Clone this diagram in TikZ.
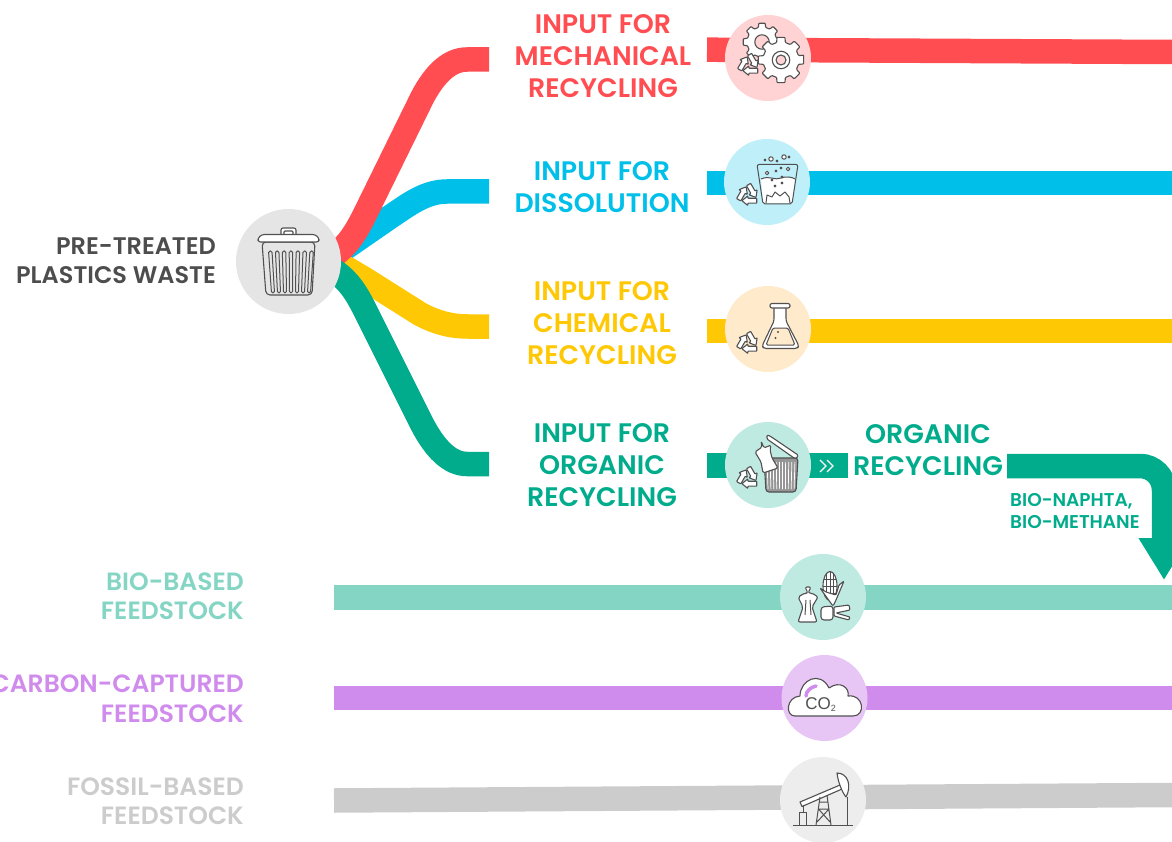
\documentclass[tikz,border=0pt]{standalone}
\usepackage{fontspec}
\newfontfamily\popfont{Poppins SemiBold}
\usepackage{xcolor}
\definecolor{mechColor}{HTML}{FF4D52}
\definecolor{dissColor}{HTML}{00BFE8}
\definecolor{chemColor}{HTML}{FFC805}
\definecolor{chemLight}{HTML}{FFEACB}
\definecolor{orgColor}{HTML}{00AC8B}
\definecolor{bioColor}{HTML}{85D5C5}
\definecolor{carbColor}{HTML}{D08CEC}
\definecolor{fossColor}{HTML}{CCCCCC}
\definecolor{hubColor}{HTML}{E5E5E5}
\definecolor{iconColor}{HTML}{505050}
\definecolor{hubText}{HTML}{4D4D4D}
\usetikzlibrary{arrows.meta,positioning,calc}
\tikzset{
    band/.style={
        line width=24.5pt
    },
    disc/.style={
        circle,
        inner sep=0pt,
        minimum size=86pt
    },
    biglabel/.style={
        font=\popfont\fontsize{26.8}{32}\selectfont,
        align=center,
        inner sep=0pt
    },
    hublabel/.style={
        font=\popfont\fontsize{24}{29}\selectfont,
        align=right,
        inner sep=0pt,
        anchor=east
    },
    feedlabel/.style={
        font=\popfont\fontsize{25}{29.5}\selectfont,
        align=right,
        inner sep=0pt,
        anchor=east
    },
    smalllabel/.style={
        font=\popfont\fontsize{18.5}{22}\selectfont,
        align=left,
        inner sep=0pt,
        anchor=west
    },
    iconline/.style={
        draw=iconColor,
        fill=white,
        line width=1.1pt,
        line join=round
    },
    iconthin/.style={
        draw=iconColor,
        line width=1pt,
        line join=round
    },
    pics/recycle/.style={
        code={
            \foreach \a in {0,120,240} {
                \draw[iconline,rotate=\a,scale=1.1,rounded corners=0.6pt]
                    (-1.4,-8.4) -- (2.4,-10.6) -- (6.4,-3.6) -- (8.3,-4.7) -- (7.25,2.26) -- (0.7,-0.3) -- (2.6,-1.4) -- cycle;
            }
        }
    },
    pics/gear/.style args={#1/#2/#3}{
        code={
            \draw[iconline,rounded corners=0.8pt]
                (-12:#1) foreach \a in {0,45,...,315} {
                    -- ({\a-10}:#1) -- ({\a+10}:#1) -- ({\a+14}:#2) -- ({\a+31}:#2)
                } -- ({-14}:#2) -- cycle;
            \draw[iconline,fill=#3] (0,0) circle[radius=0.38*#1];
        }
    }
}
\begin{document}
\begin{tikzpicture}[x=1pt,y=-1pt]
    \path[use as bounding box,clip] (0,0) rectangle (1172,842);

    % Anchors of the bands
    \coordinate (mechStart) at (330,258);
    \coordinate (dissStart) at (335,255);
    \coordinate (chemStart) at (336,265);
    \coordinate (orgStart) at (330,268);
    \coordinate (mechEnd) at (489,59.5);
    \coordinate (dissEnd) at (489,191.5);
    \coordinate (chemEnd) at (489,326.5);
    \coordinate (orgEnd) at (489,464);

    % Bands from the bin
    \draw[band,dissColor] (dissStart) -- (390,217) .. controls (408,205) and (425,191.5) .. (447,191.5) -- (dissEnd);
    \draw[band,chemColor] (chemStart) .. controls (345,266) and (352,272) .. (363,278) -- (420,314) .. controls (437,323) and (452,326.5) .. (468,326.5) -- (chemEnd);
    \draw[band,mechColor] (mechStart) .. controls (350,245) and (358,228) .. (367,210) -- (422,98) .. controls (435,73) and (450,59.5) .. (467,59.5) -- (mechEnd);
    \draw[band,orgColor] (orgStart) .. controls (350,280) and (358,296) .. (367,314) -- (422,424) .. controls (435,449) and (450,464) .. (467,464) -- (orgEnd);

    % Bands behind the icons
    \coordinate (mechIn) at (707,49.7);
    \coordinate (mechOut) at (1172,52);
    \coordinate (dissIn) at (707,183);
    \coordinate (dissOut) at (1172,183);
    \coordinate (chemIn) at (707,331);
    \coordinate (chemOut) at (1172,331);
    \coordinate (orgIn) at (707,465.5);
    \coordinate (orgMid) at (848,465.5);
    \coordinate (orgOut) at (1007,466);
    \coordinate (orgTip) at (1164,580);
    \coordinate (bioIn) at (334,597.5);
    \coordinate (bioOut) at (1172,597.5);
    \coordinate (carbIn) at (334,698);
    \coordinate (carbOut) at (1172,698);
    \coordinate (fossIn) at (334,800.5);
    \coordinate (fossOut) at (1172,795);
    \draw[band,mechColor] (mechIn) -- (mechOut);
    \draw[band,dissColor] (dissIn) -- (dissOut);
    \draw[band,chemColor] (chemIn) -- (chemOut);
    \draw[band,orgColor] (orgIn) -- (orgMid);
    \draw[band,bioColor] (bioIn) -- (bioOut);
    \draw[band,carbColor] (carbIn) -- (carbOut);
    \draw[band,fossColor] (fossIn) -- (fossOut);
    \draw[band,orgColor,-{Triangle[width=48pt,length=42pt]}] (orgOut) -- (1140,466) .. controls (1153.2,466) and (1164,476.8) .. (1164,490) -- (orgTip);
    \draw[white,line width=1.2pt] (820,460) -- (826,466) -- (820,472) (827,460) -- (833,466) -- (827,472);

    % Discs
    \node[disc,minimum size=105pt,fill=hubColor] (hub) at (288.5,261.5) {};
    \node[disc,fill=mechColor!25] (mechIcon) at (768,58) {};
    \node[disc,fill=dissColor!25] (dissIcon) at (767,182) {};
    \node[disc,fill=chemLight] (chemIcon) at (768,329) {};
    \node[disc,fill=orgColor!25] (orgIcon) at (768,465) {};
    \node[disc,fill=orgColor!25] (bioIcon) at (823,597) {};
    \node[disc,fill=carbColor!50] (carbIcon) at (824.5,698) {};
    \node[disc,fill=hubColor!70] (fossIcon) at (823,800) {};

    % Bin
    \draw[iconline,rounded corners=2pt] (281,235) -- (281,228) -- (296,228) -- (296,235);
    \draw[iconline,rounded corners=1pt] (284,234) -- (284,231) -- (293,231) -- (293,234);
    \draw[iconline,fill=hubColor,rounded corners=4pt] (262,242) -- (266,295) -- (312,295) -- (315,242) -- cycle;
    \draw[iconline,rounded corners=2.5pt] (258,242) -- (258,238) -- (262,234.5) -- (315,234.5) -- (319,238) -- (319,242) -- cycle;
    \foreach \i in {0,...,6} {
        \draw[iconthin,rounded corners=1.5pt] ({268.5+\i*6.9},251) -- ({271.5+\i*6.0},293) -- ({274.5+\i*6.0},293) -- ({272+\i*6.9},251) -- cycle;
    }

    % Gears
    \pic at (762,42) {gear={19/15/mechColor!25}};
    \pic at (781,60) {gear={23/18/white}};
    \draw[iconline,fill=mechColor!25] (781,60) circle[radius=5];
    \pic at (749,65) {recycle};

    % Beaker
    \draw[iconline,draw=none] (761,179) .. controls (770,175) and (775,181) .. (781,178) .. controls (786,176) and (792,177) .. (795,179) -- (792,203.5) -- (763,203.5) -- cycle;
    \draw[iconthin,rounded corners=2pt] (757,164.5) -- (763,204) -- (792,204) -- (798,164.5) -- cycle;
    \draw[iconthin] (761,179) .. controls (770,175) and (775,181) .. (781,178) .. controls (786,176) and (792,177) .. (795,179);
    \draw[iconthin] (766,203) -- (767,195) -- (772,197) -- (775,192) -- (780,196) -- (785,192) -- (789,197) -- (790,203);
    \foreach \bx/\by/\br in {771/159/2.2,784/157/2.2,765/160/1,789/157/1,777/161/1,788/169/1.8,767/173/1.8,781/168/1,776/171/1,772/180/1,782/177/1,775/186/1,782/183/1} {
        \draw[iconthin,fill=white] (\bx,\by) circle[radius=\br];
    }
    \pic at (748,195) {recycle};

    % Flask
    \draw[iconline,rounded corners=2.5pt] (774,306) -- (774,321) -- (762,346) -- (764,348.5) -- (797,348.5) -- (799,346) -- (786,321) -- (786,306) -- cycle;
    \draw[iconline,rounded corners=2pt] (770,303.5) -- (790,303.5) -- (790,308) -- (770,308) -- cycle;
    \draw[iconthin,rounded corners=1.5pt,fill=chemLight] (773,328) -- (788,328) -- (795,345) -- (766,345) -- cycle;
    \fill[iconColor] (778,332) circle[radius=1.2] (775.5,338) circle[radius=1.2];
    \pic at (748,343) {recycle};

    % Bin with core
    \draw[iconline,fill=iconColor!60,rounded corners=3pt] (764,458) -- (766,492) -- (796,492) -- (798,458) -- cycle;
    \foreach \i in {0,...,9} {
        \draw[white,line width=0.7pt] ({767+\i*3.1},462) -- ({768+\i*2.9},489);
    }
    \draw[iconline,rounded corners=1pt] (767,435) -- (770,436) -- (798,455) -- (797,458) -- (794,458) -- (767,439) -- cycle;
    \draw[iconline,rounded corners=1.5pt] (761,441) -- (762,447) -- (755,452) -- (761,462) -- (763,473) -- (778,468) -- (772,458) -- (770,450) -- (771,445) -- (764,448) -- cycle;
    \pic at (748,478) {recycle};

    % Core and corn
    \draw[iconline,rounded corners=2pt] (805,587) -- (808,593) -- (805,593) -- (798,597) -- (803,607) -- (798,622) -- (817,622) -- (812,607) -- (818,597) -- (812,593) -- (808,593) -- (811,587) -- cycle;
    \draw[iconthin] (806,600) -- (805,615) (810,600) -- (811,615);
    \draw[iconline] (830,586) ellipse[x radius=7,y radius=14.5];
    \draw[iconthin] (823,586) -- (837,586) (824,579) -- (836,579) (824,593) -- (836,593) (830,572) -- (830,600) (826.5,574) -- (826.5,598) (833.5,574) -- (833.5,598);
    \draw[iconline,rounded corners=1pt] (820,588) -- (830,602) -- (833,606) -- (836,600) -- (844,581) -- (839,585) -- (836,595) -- (826,592) -- cycle;
    \draw[iconline,rounded corners=1pt] (834,607) -- (849,605) -- (850,610) -- (836,613) -- (850,617) -- (849,620) -- (834,616) -- cycle;
    \draw[iconline,rounded corners=3pt] (821,607) -- (833,606) -- (833,620) -- (821,620) -- cycle;

    % Cloud
    \draw[iconline] (795,716) .. controls (785,716) and (786,697) .. (800,696) .. controls (800,680) and (820,670) .. (829,688) .. controls (840,680) and (850,688) .. (848,696) .. controls (864,694) and (866,716) .. (853,716) -- cycle;
    \draw[carbColor,line width=3.5pt,line cap=round] (806,696) .. controls (806,691) and (811,687) .. (816,686);
    \node[font=\fontspec{Liberation Sans}\fontsize{17}{17}\selectfont,text=iconColor,inner sep=0pt] (co2Label) at (820.5,704.5) {CO\raisebox{-2pt}{\fontsize{9}{9}\selectfont 2}};

    % Pump
    \draw[iconthin] (793,825) -- (853,825);
    \draw[iconthin] (847,797) -- (847,825);
    \draw[iconline] (800,802) -- (840,785) -- (842,789) -- (802,806.5) -- cycle;
    \draw[iconline] (837,773) .. controls (848,773) and (852,786) .. (846,797) .. controls (842,792) and (838,782) .. (837,773) -- cycle;
    \draw[iconthin] (820,797) -- (816,825) (827,795) -- (831,825) (818.5,809) -- (829,809) (817,822) -- (829,809) (818.5,809) -- (830,822) (819.5,802) -- (828,802);
    \draw[iconthin] (803,805) -- (803,812) (799.5,825) -- (799.5,812) -- (806.5,812) -- (806.5,825);

    % Labels
    \node[hublabel,text=hubText] (hubLabel) at (216,260.5) {PRE-TREATED\\PLASTICS WASTE};
    \node[biglabel,text=mechColor] (mechLabel) at (603,56.5) {INPUT FOR\\MECHANICAL\\RECYCLING};
    \node[biglabel,text=dissColor] (dissLabel) at (602,187.5) {INPUT FOR\\DISSOLUTION};
    \node[biglabel,text=chemColor] (chemLabel) at (602,323.5) {INPUT FOR\\CHEMICAL\\RECYCLING};
    \node[biglabel,text=orgColor] (orgLabel) at (602,465.5) {INPUT FOR\\ORGANIC\\RECYCLING};
    \node[biglabel,text=orgColor] (recyLabel) at (928,450.5) {ORGANIC\\RECYCLING};
    \node[smalllabel,text=orgColor] (fuelLabel) at (1010,511) {BIO-NAPHTA,\\BIO-METHANE};
    \node[feedlabel,text=bioColor] (bioLabel) at (244,596) {BIO-BASED\\FEEDSTOCK};
    \node[feedlabel,text=carbColor] (carbLabel) at (244,698.5) {CARBON-CAPTURED\\FEEDSTOCK};
    \node[feedlabel,text=fossColor] (fossLabel) at (244,801) {FOSSIL-BASED\\FEEDSTOCK};
\end{tikzpicture}
\end{document}
